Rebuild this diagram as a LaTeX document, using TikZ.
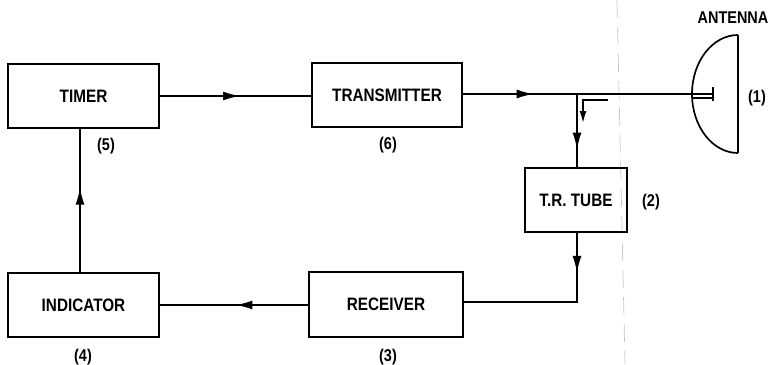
\documentclass[tikz,border=0pt]{standalone}
\usepackage{fontspec}
\setmainfont{Liberation Sans}[FakeStretch=0.85]
\usetikzlibrary{arrows.meta,decorations.markings}

\begin{document}
\begin{tikzpicture}[x=1pt,y=-1pt,
    line width=1.7pt,
    blockbox/.style={draw,rectangle,inner sep=0pt,minimum height=64pt,
      font=\bfseries\fontsize{18}{18}\selectfont},
    tag/.style={font=\bfseries\fontsize{17}{17}\selectfont},
    flow/.style={postaction=decorate,decoration={markings,
      mark=at position #1 with {\arrow{Latex[length=17pt,width=9pt]}}}}]
  \useasboundingbox (0,0) rectangle (773,364);

  % fold line of the page
  \draw[gray!45,line width=0.7pt,dash pattern=on 18pt off 9pt] (617,0) -- (625,364);

  \node[blockbox,minimum width=151pt] (timer) at (83.5,96) {TIMER};
  \node[blockbox,minimum width=150pt] (tx) at (387,95) {TRANSMITTER};
  \node[blockbox,minimum width=102pt] (trt) at (576,200) {T.R. TUBE};
  \node[blockbox,minimum width=154pt,minimum height=65pt] (rx) at (386,304.5) {RECEIVER};
  \node[blockbox,minimum width=151pt] (ind) at (83.5,305) {INDICATOR};

  \node[tag] (n5) at (106,146) {(5)};
  \node[tag] (n6) at (388,145) {(6)};
  \node[tag] (n2) at (651,202) {(2)};
  \node[tag] (n3) at (388,357) {(3)};
  \node[tag] (n4) at (83,357) {(4)};
  \node[tag] (n1) at (757,98) {(1)};
  \node[tag] (ant) at (733,18) {ANTENNA};

  \coordinate (jn) at (577,94);
  \coordinate (feed) at (713,94);
  \coordinate (cr) at (577,302);

  \draw[flow=0.53] (timer.east) -- (timer.east -| tx.west);
  \draw[flow=0.62] (tx.east |- jn) -- (jn);
  \draw (jn) -- (feed);
  \draw[flow=0.76] (jn) -- (jn |- trt.north);
  \draw[flow=0.22] (trt.south -| cr) -- (cr) -- (rx.east |- cr);
  \draw[flow=0.49] (rx.west |- ind.east) -- (ind.east);
  \draw[flow=0.59] (ind.north -| 80,0) -- (timer.south -| 80,0);

  % small return arrow at the junction
  \draw[-{Latex[length=12pt,width=7pt]}] (608,100) -- (583,100) -- (583,123);

  % dish and feed
  \draw (738,35) arc[start angle=270,end angle=90,x radius=46,y radius=59];
  \draw (738,35) -- (738,153);
  \draw (692,98) -- (713,98);
  \draw (713,87) -- (713,101);
\end{tikzpicture}
\end{document}
